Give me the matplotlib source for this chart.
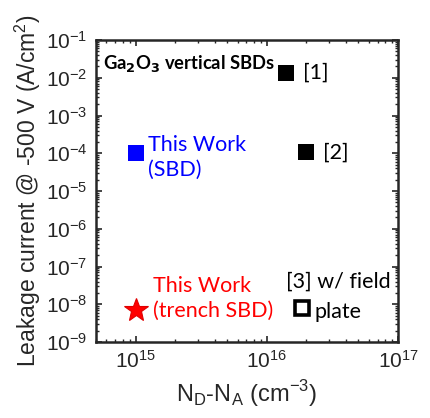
import matplotlib
matplotlib.use("Agg")
import matplotlib.pyplot as plt
from matplotlib.ticker import LogLocator, NullFormatter

# Net doping (cm^-3) and leakage current at -500 V (A/cm^2)
ref_labels = ["[1]", "[2]"]
ref_nd = [1.4e16, 2.0e16]
ref_j = [1.35e-2, 1.05e-4]

sbd_nd = [1.0e15]
sbd_j = [1.0e-4]

trench_nd = [1.0e15]
trench_j = [7.0e-9]

fp_nd = [1.85e16]
fp_j = [8.0e-9]

x_ticks = [1e15, 1e16, 1e17]
y_ticks = [1e-9, 1e-8, 1e-7, 1e-6, 1e-5, 1e-4, 1e-3, 1e-2, 1e-1]

axis_font = "Liberation Sans"
note_font = "Lato"
note_size = 15.5

fig = plt.figure(figsize=(4.30, 4.18), dpi=100)
ax = fig.add_axes([96/430, 1-342/418, (398-96)/430, (342-40)/418])

ax.set_xscale("log")
ax.set_yscale("log")
ax.set_xlim(5e14, 1e17)
ax.set_ylim(1e-9, 1e-1)

ax.plot(ref_nd, ref_j, "s", color="black", ms=12, mew=0, linestyle="none")
ax.plot(sbd_nd, sbd_j, "s", color="#0000ff", ms=12, mew=0, linestyle="none")
ax.plot(trench_nd, trench_j, "*", color="#ff0000", mec="#e00000", ms=18, mew=0.8,
        linestyle="none")
ax.plot(fp_nd, fp_j, "s", mfc="white", mec="black", ms=10, mew=2.6, linestyle="none")

for lab, x, y in zip(ref_labels, ref_nd, ref_j):
    ax.annotate(lab, (x, y), xytext=(17, 0), textcoords="offset pixels",
                ha="left", va="center", fontsize=note_size, family=note_font)

ax.annotate("This Work\n(SBD)", (sbd_nd[0], sbd_j[0]), xytext=(12, -4),
            textcoords="offset pixels", ha="left", va="center", fontsize=note_size,
            family=note_font, color="#0000ff", linespacing=1.3)
ax.annotate("This Work\n(trench SBD)", (trench_nd[0], trench_j[0]), xytext=(17, 12),
            textcoords="offset pixels", ha="left", va="center", fontsize=note_size,
            family=note_font, color="#ff0000", linespacing=1.3)
ax.annotate("[3] w/ field", (fp_nd[0], fp_j[0]), xytext=(-16, 26),
            textcoords="offset pixels", ha="left", va="center", fontsize=note_size,
            family=note_font)
ax.annotate("plate", (fp_nd[0], fp_j[0]), xytext=(13, -4),
            textcoords="offset pixels", ha="left", va="center", fontsize=note_size,
            family=note_font)

ax.text(0.022, 0.958, r"Ga$_\mathbf{2}$O$_\mathbf{3}$ vertical SBDs",
        transform=ax.transAxes, ha="left", va="top", fontsize=13.2,
        fontweight="bold", family=note_font)

ax.set_xticks(x_ticks)
ax.set_yticks(y_ticks)
ax.xaxis.set_minor_locator(LogLocator(base=10, subs=range(2, 10), numticks=20))
ax.yaxis.set_minor_locator(LogLocator(base=10, subs=range(2, 10), numticks=20))
ax.xaxis.set_minor_formatter(NullFormatter())
ax.yaxis.set_minor_formatter(NullFormatter())

ax.tick_params(which="both", direction="in", top=True, right=True, colors="#262626")
ax.tick_params(which="major", length=4, width=1.2, labelsize=15, pad=6)
ax.tick_params(which="minor", length=2.5, width=1.0)
for lbl in ax.get_xticklabels() + ax.get_yticklabels():
    lbl.set_family(axis_font)
for sp in ax.spines.values():
    sp.set_linewidth(1.8)
    sp.set_color("#262626")

ax.set_xlabel(r"N$_\mathregular{D}$-N$_\mathregular{A}$ (cm$^\mathregular{-3}$)",
              fontsize=17, family=axis_font, color="#262626", labelpad=4)
ax.set_ylabel(r"Leakage current @ -500 V (A/cm$^\mathregular{2}$)",
              fontsize=16.5, family=axis_font, color="#262626", labelpad=2)

fig.savefig("out.png", dpi=100)
